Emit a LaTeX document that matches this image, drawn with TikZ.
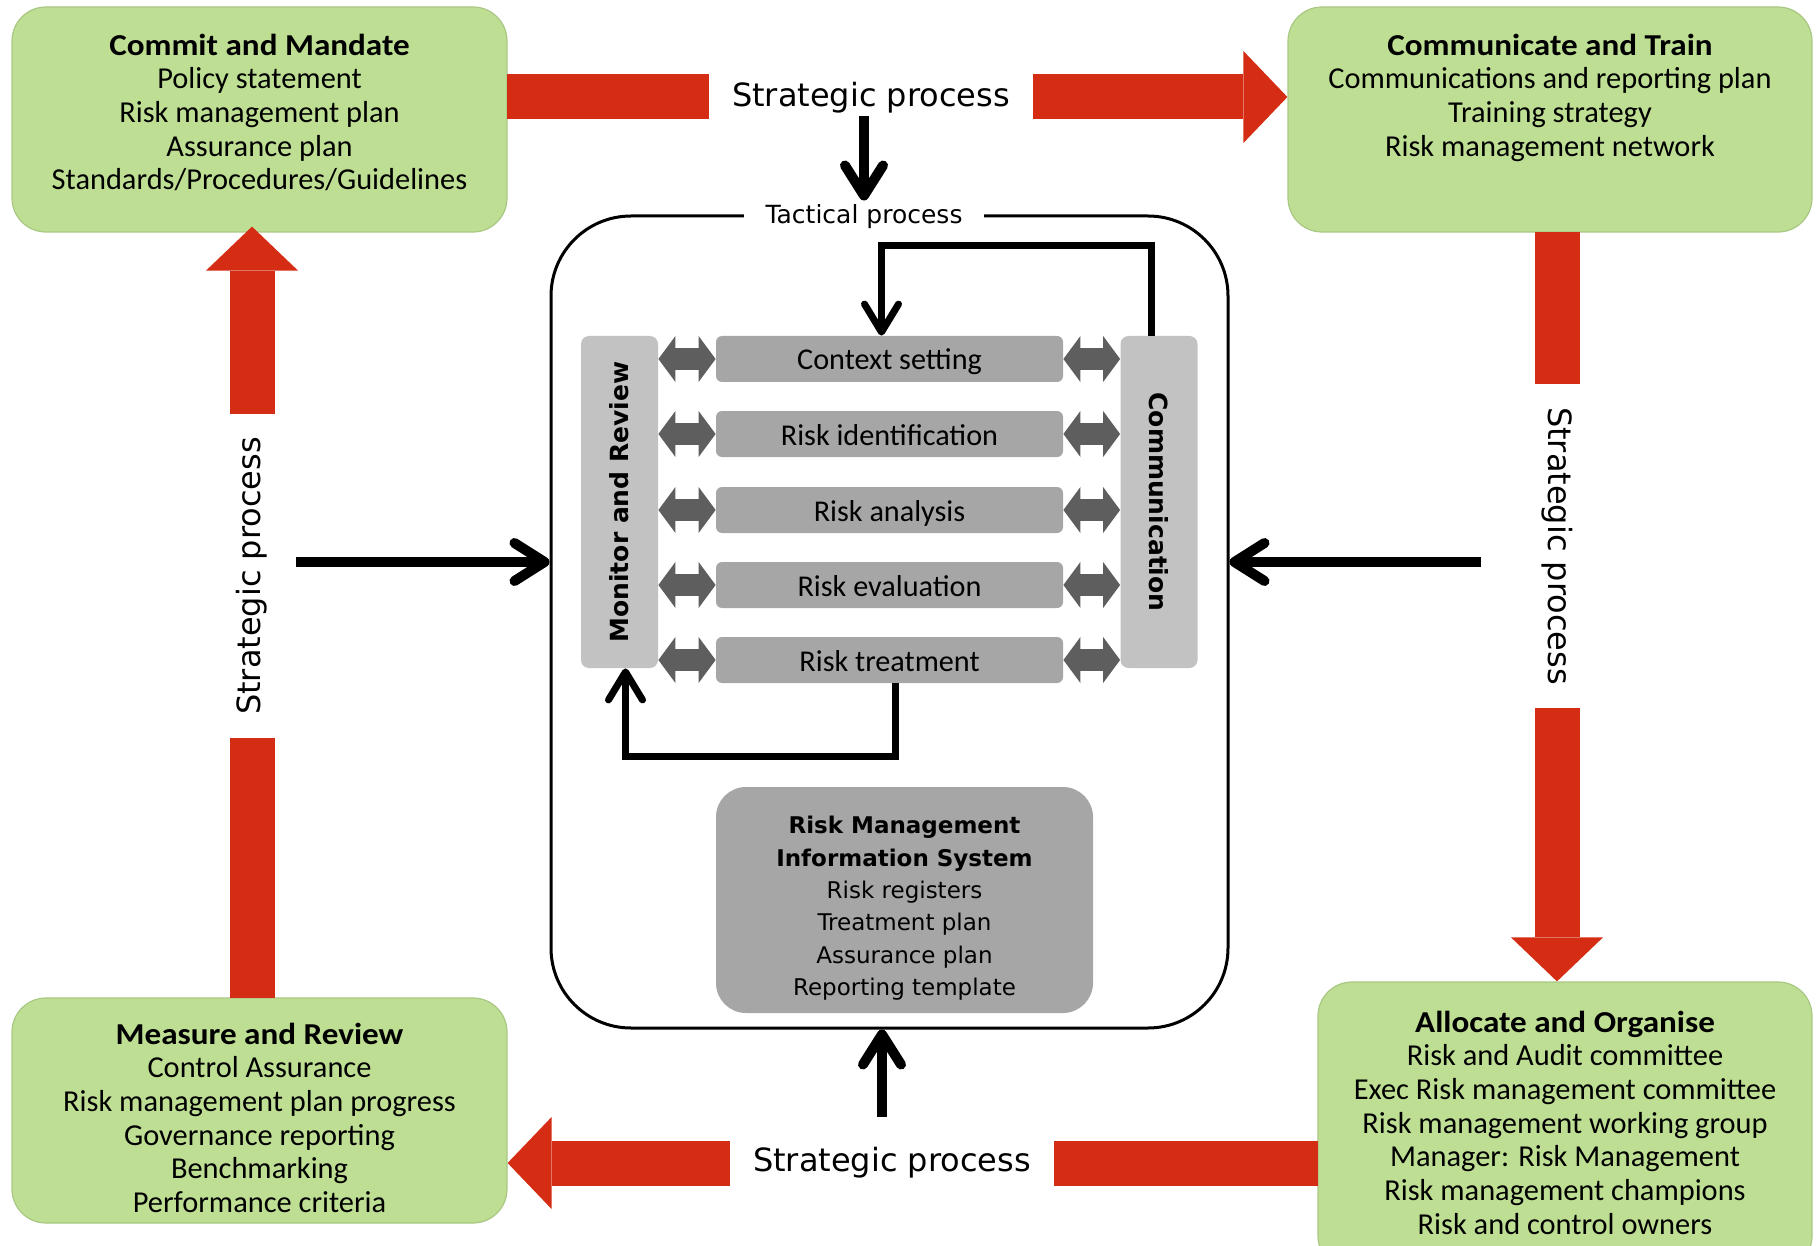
\documentclass[tikz,border=0pt]{standalone}
\usepackage{fontspec}
\usepackage{graphicx}
\usetikzlibrary{arrows.meta}
\setmainfont{Carlito}
\newfontfamily\tahoma{DejaVu Sans}
\newfontfamily\headfont{Carlito}[FakeStretch=1.09]
\definecolor{boxgreen}{HTML}{BEDF93}
\definecolor{boxedge}{HTML}{A9C783}
\definecolor{stratred}{HTML}{D42D13}
\definecolor{stepgray}{HTML}{A6A6A6}
\definecolor{sidegray}{HTML}{C2C2C2}
\definecolor{dblgray}{HTML}{5E5E5E}
\newcommand{\stratproc}{Strategic process}
\newcommand{\boxhead}[1]{{\headfont\bfseries #1}}

\tikzset{
  greenbox/.style={draw=boxedge, fill=boxgreen, line width=0.6pt, rounded corners=17pt},
  boxtext/.style={align=center, anchor=north, inner sep=0pt, font=\fontsize{15.2}{16.85}\selectfont},
  redarrow/.style={draw=stratred, line width=22.5pt, -{Triangle[length=22pt, width=46pt, line width=0pt]}},
  stratlabel/.style={fill=white, inner xsep=11.5pt, inner ysep=6pt, font=\tahoma\fontsize{16}{19}\selectfont},
  blackarrow/.style={draw=black, line width=5pt, -{Straight Barb[length=15pt, width=19pt, round]}},
  loopline/.style={draw=black, line width=3.5pt, -{Straight Barb[length=14pt, width=17pt, round]}},
  stepbox/.style={fill=stepgray, rounded corners=3pt, minimum width=173.5pt, minimum height=23pt,
    inner sep=0pt, text height=14pt, text depth=3pt, font=\fontsize{15.1}{16}\selectfont},
  sidebar/.style={fill=sidegray, rounded corners=4pt, minimum width=38.5pt, minimum height=166pt,
    inner sep=0pt, font=\tahoma\bfseries\fontsize{12.5}{14}\selectfont},
  dblarrow/.style={draw=dblgray, line width=11pt,
    {Triangle[length=8.5pt, width=23pt, line width=0pt]}-{Triangle[length=8.5pt, width=23pt, line width=0pt]}}
}

\begin{document}
\begin{tikzpicture}[x=0.5pt, y=-0.5pt]
  \useasboundingbox (0,0) rectangle (1816,1246);

  % the four green boxes
  \node[greenbox, minimum width=247.5pt, minimum height=112.5pt] (commit) at (259.5,119.5) {};
  \node[greenbox, minimum width=262pt, minimum height=112.5pt] (train) at (1550,119.5) {};
  \node[greenbox, minimum width=247.5pt, minimum height=112.5pt] (measure) at (259.5,1110.5) {};
  \node[greenbox, minimum width=247pt, minimum height=144pt] (allocate) at (1565,1126) {};

  \node[boxtext] (committxt) at ([yshift=-13.5pt]commit.north) {\boxhead{Commit and Mandate}\\
    Policy statement\\ Risk management plan\\ Assurance plan\\ Standards/Procedures/Guidelines};
  \node[boxtext] (traintxt) at ([yshift=-13.5pt]train.north) {\boxhead{Communicate and Train}\\
    Communications and reporting plan\\ Training strategy\\ Risk management network};
  \node[boxtext] (measuretxt) at ([yshift=-12.5pt]measure.north) {\boxhead{Measure and Review}\\
    Control Assurance\\ Risk management plan progress\\ Governance reporting\\ Benchmarking\\ Performance criteria};
  \node[boxtext] (allocatetxt) at ([yshift=-14.5pt]allocate.north) {\boxhead{Allocate and Organise}\\
    Risk and Audit committee\\ Exec Risk management committee\\ Risk management working group\\
    Manager: Risk Management\\ Risk management champions\\ Risk and control owners};

  % strategic cycle
  \coordinate (toparr) at (507,97);
  \coordinate (rightarr) at (1557,232);
  \coordinate (botarr) at (1318,1163);
  \coordinate (leftarr) at (252,998);
  \draw[redarrow] (toparr) -- (toparr -| train.west);
  \draw[redarrow] (rightarr) -- (rightarr |- allocate.north);
  \draw[redarrow] (botarr) -- (botarr -| measure.east);
  \draw[redarrow] (leftarr) -- ([yshift=3pt]leftarr |- commit.south);

  \node[stratlabel] (sptop) at (871,98) {\stratproc};
  \node[stratlabel, rotate=-90] (spright) at (1557,546) {\stratproc};
  \node[stratlabel] (spbot) at (892,1163) {\stratproc};
  \node[stratlabel, rotate=90] (spleft) at (252,576) {\stratproc};

  % tactical process
  \node[draw, line width=1.5pt, rounded corners=40pt, minimum width=338.5pt, minimum height=406pt] (tact) at (889.5,622) {};
  \node[fill=white, inner xsep=11pt, inner ysep=4pt, font=\tahoma\fontsize{12.5}{15}\selectfont] (tactlbl) at (864,217) {Tactical process};

  \draw[blackarrow] ([yshift=5pt]tactlbl.north |- sptop.south) -- ([yshift=-2pt]tactlbl.north);
  \coordinate (inleft) at (296,562);
  \coordinate (inright) at (1481,562);
  \draw[blackarrow] (inleft) -- (inleft -| tact.west);
  \draw[blackarrow] (inright) -- (inright -| tact.east);
  \draw[blackarrow] ([yshift=9pt]spbot.north -| 882,0) -- (882,0 |- tact.south);

  % risk management process
  \node[sidebar] (monitor) at (619.5,502) {\rotatebox{90}{Monitor and Review}};
  \node[sidebar] (communic) at (1159,502) {\rotatebox{-90}{Communication}};

  \node[stepbox] (s1) at (889.5,359) {Context setting};
  \node[stepbox] (s2) at (889.5,434) {Risk identification};
  \node[stepbox] (s3) at (889.5,510) {Risk analysis};
  \node[stepbox] (s4) at (889.5,585) {Risk evaluation};
  \node[stepbox] (s5) at (889.5,660) {Risk treatment};

  \foreach \s in {s1,s2,s3,s4,s5} {
    \draw[dblarrow] (monitor.east |- \s) -- (\s.west);
    \draw[dblarrow] (\s.east) -- (\s.east -| communic.west);
  }

  \draw[loopline] ([xshift=-4pt]communic.north) -- ++(0,-90) -| ([xshift=-4pt]s1.north);
  \draw[loopline] ([xshift=3pt]s5.south) -- ++(0,73) -| ([xshift=3pt]monitor.south);

  % information system
  \node[fill=stepgray, rounded corners=15pt, minimum width=188.5pt, minimum height=113pt, align=center,
    font=\tahoma\fontsize{11.5}{16.2}\selectfont] (rmis) at (904.5,900)
    {\rule{0pt}{17pt}\textbf{Risk Management}\\ \textbf{Information System}\\ Risk registers\\ Treatment plan\\ Assurance plan\\ Reporting template};
\end{tikzpicture}
\end{document}
